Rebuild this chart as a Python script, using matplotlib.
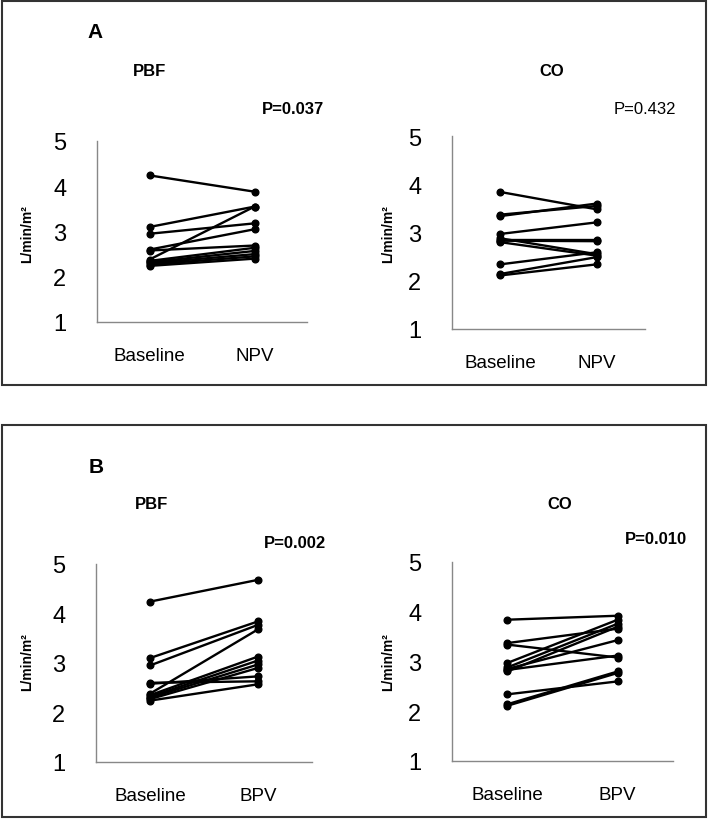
import matplotlib
matplotlib.use("Agg")
import matplotlib.pyplot as plt
from matplotlib.patches import Rectangle

plt.rcParams['font.family'] = ['Liberation Sans Narrow', 'Liberation Sans', 'DejaVu Sans']

W, H = 708, 828

# Data (L/min/m2)
pbf_baseline = [4.24, 3.10, 2.95, 2.60, 2.58, 2.38, 2.35, 2.32, 2.30, 2.27, 2.24]
pbf_npv      = [3.88, 3.55, 3.18, 3.05, 2.69, 3.55, 2.64, 2.57, 2.50, 2.45, 2.40]
pbf_bpv      = [4.68, 3.84, 3.77, 2.63, 2.73, 3.68, 3.13, 3.05, 2.97, 2.90, 2.57]

co_baseline  = [3.84, 3.37, 3.34, 2.97, 2.88, 2.85, 2.83, 2.80, 2.34, 2.14, 2.11]
co_npv       = [3.48, 3.55, 3.60, 3.21, 2.55, 2.85, 2.82, 2.52, 2.59, 2.49, 2.34]
co_bpv       = [3.92, 3.66, 3.08, 3.84, 3.76, 3.43, 3.12, 3.70, 2.60, 2.80, 2.77]

x_labels_npv = ["Baseline", "NPV"]
x_labels_bpv = ["Baseline", "BPV"]
y_ticks = [1, 2, 3, 4, 5]

fig = plt.figure(figsize=(W / 100, H / 100), dpi=100)

def ax_at(x0, y0, x1, y1):
    return fig.add_axes([x0 / W, 1 - y1 / H, (x1 - x0) / W, (y1 - y0) / H])

def draw_panel(ax, before, after, xlabels):
    for b, a in zip(before, after):
        ax.plot([0, 1], [b, a], color='black', lw=1.7, marker='o', ms=4.8)
    ax.set_xlim(-0.5, 1.5)
    ax.set_ylim(1, 5)
    ax.set_yticks(y_ticks)
    ax.set_yticklabels([str(t) for t in y_ticks], fontsize=17)
    ax.set_xticks([0, 1])
    ax.set_xticklabels(xlabels, fontsize=13.5)
    ax.tick_params(axis='y', length=0, pad=22)
    ax.tick_params(axis='x', length=0, pad=18)
    for s in ['top', 'right']:
        ax.spines[s].set_visible(False)
    for s in ['left', 'bottom']:
        ax.spines[s].set_color('#888888')
        ax.spines[s].set_linewidth(1.0)

def txt(x, y, s, **kw):
    fig.text(x / W, 1 - y / H, s, ha='center', va='center', **kw)

# Panel A
a1 = ax_at(97, 142, 307, 323)
draw_panel(a1, pbf_baseline, pbf_npv, x_labels_npv)
a2 = ax_at(452, 137, 645, 330)
draw_panel(a2, co_baseline, co_npv, x_labels_npv)

# Panel B
b1 = ax_at(96, 565, 312, 763)
draw_panel(b1, pbf_baseline, pbf_bpv, x_labels_bpv)
b2 = ax_at(452, 563, 673, 762)
draw_panel(b2, co_baseline, co_bpv, x_labels_bpv)

# Texts
txt(95, 32, "A", fontsize=15, fontweight='bold')
txt(150, 72, "PBF", fontsize=12, fontweight='bold')
txt(552, 72, "CO", fontsize=12, fontweight='bold')
txt(293, 110, "P=0.037", fontsize=12, fontweight='bold')
txt(645, 110, "P=0.432", fontsize=12)

txt(96, 468, "B", fontsize=15, fontweight='bold')
txt(152, 505, "PBF", fontsize=12, fontweight='bold')
txt(560, 505, "CO", fontsize=12, fontweight='bold')
txt(295, 543, "P=0.002", fontsize=12, fontweight='bold')
txt(656, 540, "P=0.010", fontsize=12, fontweight='bold')

for (x, y) in [(27, 234), (388, 234), (27, 662), (388, 662)]:
    txt(x, y, "L/min/m²", fontsize=10, fontweight='bold', rotation=90)

# Frames
for (x0, y0, x1, y1) in [(2, 2, 706, 386), (2, 426, 706, 818)]:
    fig.patches.append(Rectangle((x0 / W, 1 - y1 / H), (x1 - x0) / W, (y1 - y0) / H,
                                 transform=fig.transFigure, fill=False,
                                 edgecolor='#333333', lw=1.5))

fig.savefig("out.png", dpi=100)
